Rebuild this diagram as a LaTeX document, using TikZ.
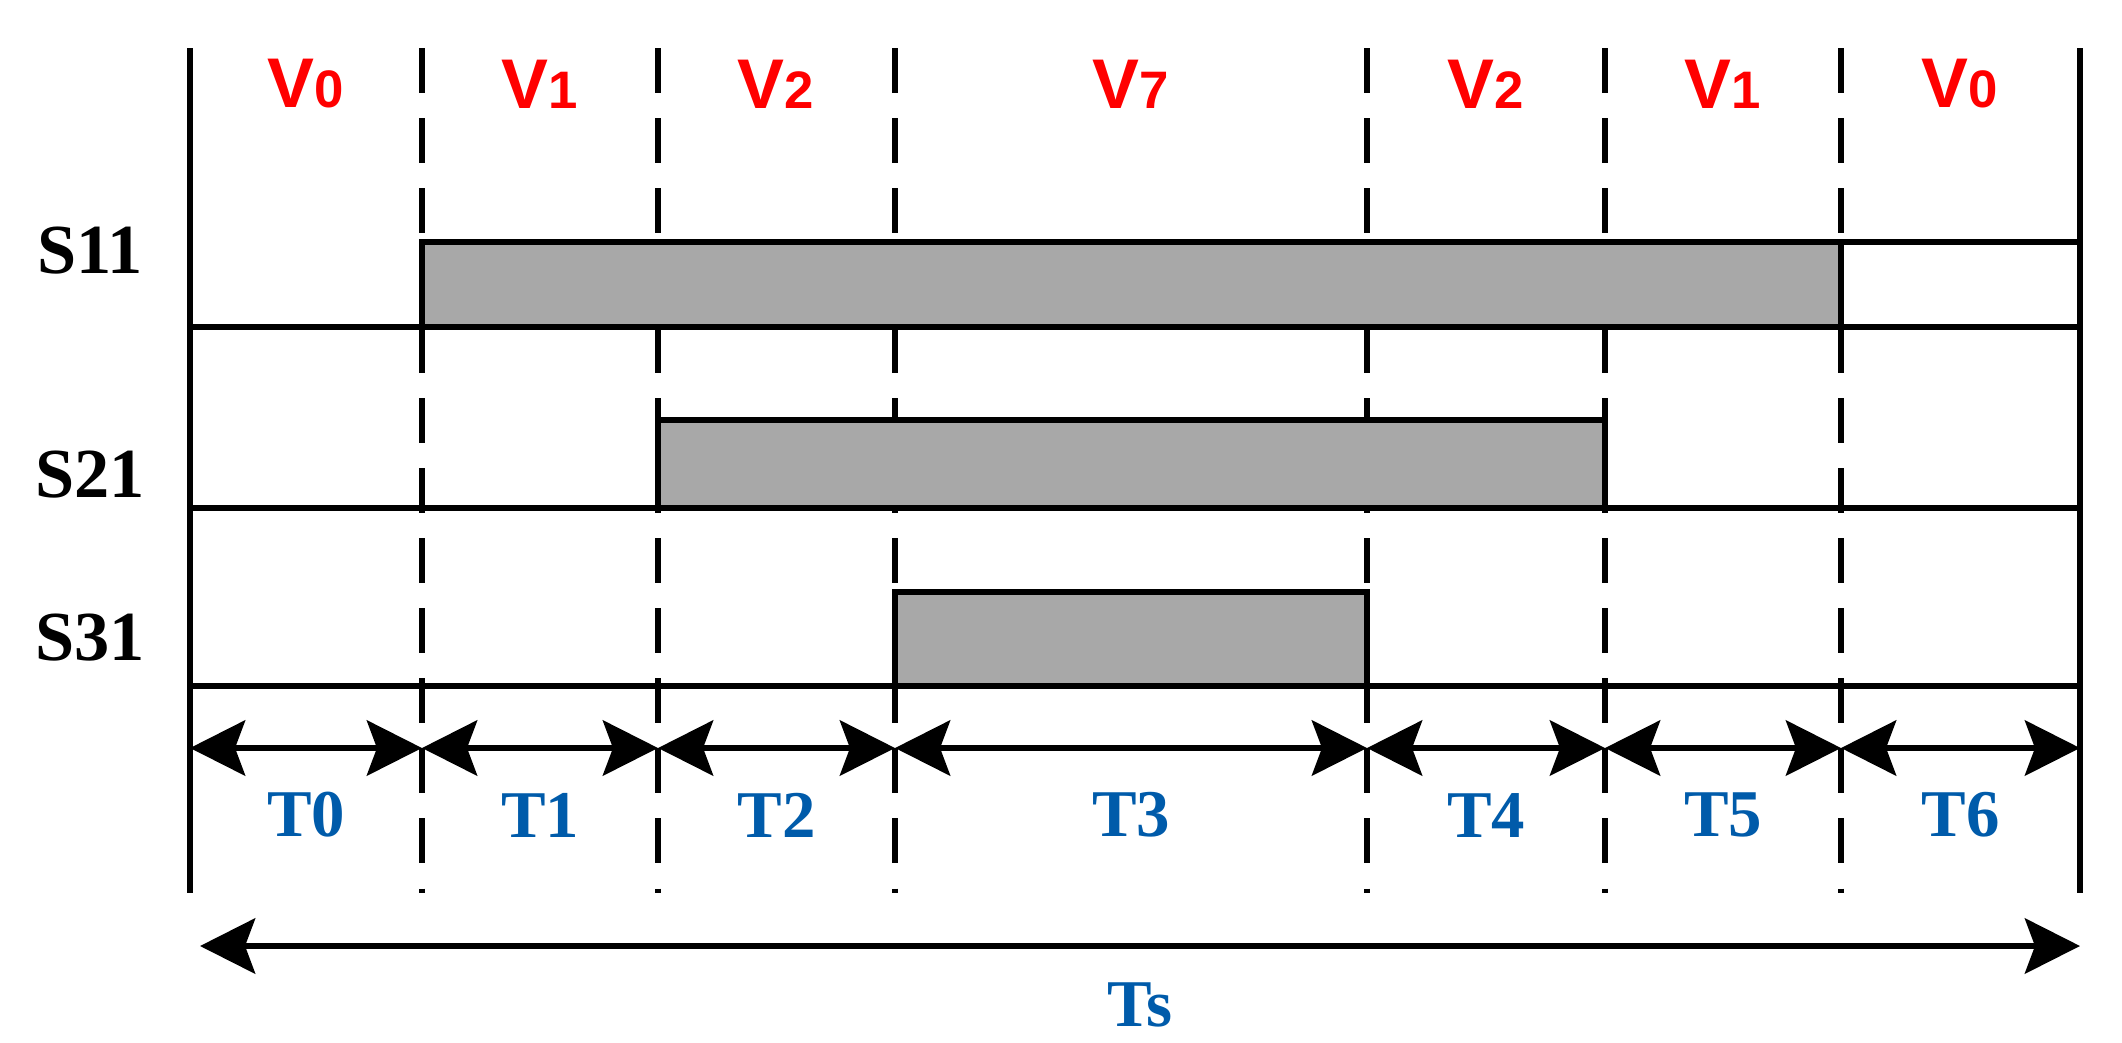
\documentclass[tikz,border=0pt]{standalone}
\usepackage{fontspec}
\setmainfont{Liberation Serif}
\newfontfamily\arialf{Liberation Sans}
\usetikzlibrary{arrows.meta}
\definecolor{tblue}{HTML}{005BAA}
\definecolor{vred}{HTML}{FF0000}
\definecolor{pgrey}{HTML}{A8A8A8}
\begin{document}
\begin{tikzpicture}[x=0.01cm,y=-0.01cm,line width=1.9pt,
  dsh/.style={dash pattern=on 0.45cm off 0.25cm},
  pulse/.style={draw=black,fill=pgrey},
  dim/.style={{Stealth[length=0.55cm,width=0.55cm,inset=0.1cm]}-{Stealth[length=0.55cm,width=0.55cm,inset=0.1cm]}},
  tl/.style={text=tblue,font=\bfseries\fontsize{19}{19}\selectfont},
  vl/.style={text=vred,font=\arialf\bfseries\fontsize{20}{20}\selectfont},
  sl/.style={font=\bfseries\fontsize{20}{20}\selectfont}]
\useasboundingbox (0,0) rectangle (2122,1042);
% grid lines
\foreach \n/\x in {a/190,h/2080}{\coordinate (\n t) at (\x,48); \coordinate (\n b) at (\x,893); \draw (\n t)--(\n b);}
\foreach \n/\x in {b/422,c/658,d/895,e/1367,f/1605,g/1841}{\coordinate (\n t) at (\x,48); \coordinate (\n b) at (\x,893); \draw[dsh] (\n t)--(\n b);}
% V labels
\foreach \x/\d in {306/0,540/1,776/2,1131/7,1486/2,1723/1,1960/0}
  \node[vl] (v\x) at (\x,84) {V\fontsize{15}{15}\selectfont\d};
% S labels
\node[sl] (s11) at (90,251) {S11};
\node[sl] (s21) at (90,475) {S21};
\node[sl] (s31) at (90,638) {S31};
% S11
\draw[pulse] (422,327) rectangle (1841,242);
\draw (190,327)--(422,327) (1841,327)--(2080,327) (1841,242)--(2080,242)--(2080,327);
% S21
\draw[pulse] (658,508) rectangle (1605,420);
\draw (190,508)--(658,508) (1605,508)--(2080,508);
% S31
\draw[pulse] (895,686) rectangle (1367,592);
\draw (190,686)--(895,686) (1367,686)--(2080,686);
% T arrows
\foreach \x/\y/\l [count=\i from 0] in {190/422/T0,422/658/T1,658/895/T2,895/1367/T3,1367/1605/T4,1605/1841/T5,1841/2080/T6}{
  \coordinate (L\i) at (\x,748); \coordinate (R\i) at (\y,748);
  \draw[dim] (L\i)--(R\i);
  \node[tl] (tl\i) at ({(\x+\y)/2},815) {\l};
}
\coordinate (TsL) at (200,946); \coordinate (TsR) at (2080,946);
\draw[dim] (TsL)--(TsR);
\node[tl] (ts) at (1140,1005) {Ts};
\end{tikzpicture}
\end{document}
